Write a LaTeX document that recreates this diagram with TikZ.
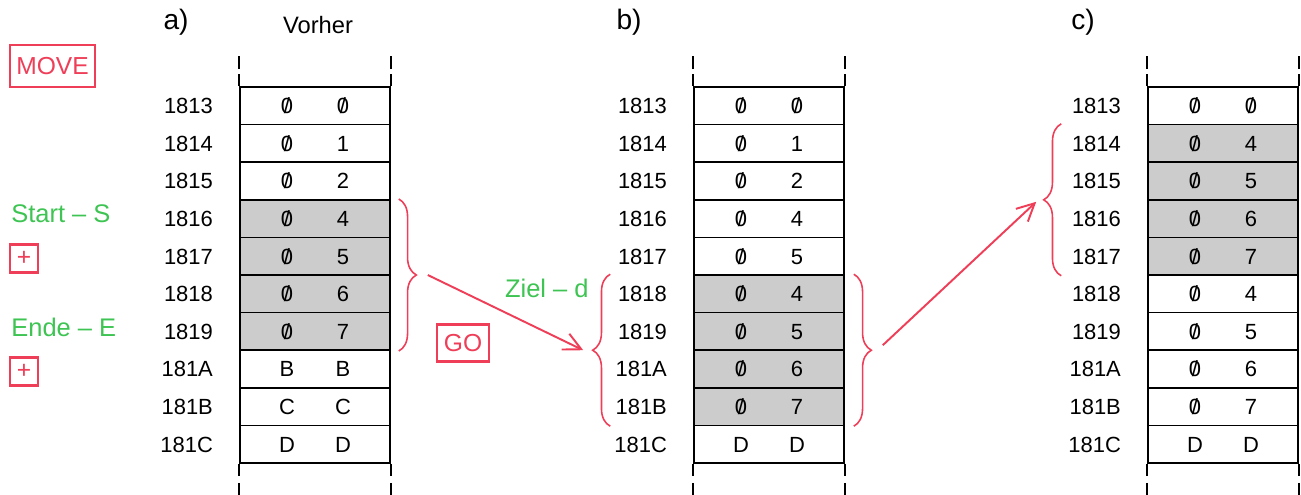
\documentclass[tikz,border=0pt]{standalone}
\usepackage{fontspec}
\setmainfont{Liberation Sans}
\usetikzlibrary{positioning,calc,arrows.meta,decorations.pathreplacing}

\definecolor{keyred}{RGB}{238,62,88}
\definecolor{notegreen}{RGB}{62,196,82}
\definecolor{cellgray}{RGB}{204,204,204}

% slashed zero as printed by the monitor listing
\newcommand{\nz}{\ooalign{0\cr\hidewidth/\hidewidth\cr}}

\begin{document}
\begin{tikzpicture}[
  x=0.02cm, y=-0.02cm,
  font=\fontsize{12.5}{14}\selectfont,
  cell/.style={rectangle, draw=black, line width=0.9pt,
               minimum width=3cm, minimum height=0.752cm, inner sep=0pt,
               text height=9pt, text depth=0pt},
  addr/.style={inner sep=0pt, text height=9pt, text depth=0pt},
  rail/.style={line width=1.1pt, black},
  key/.style={draw=keyred, line width=1.2pt, text=keyred, inner sep=0pt,
              font=\fontsize{14}{16}\selectfont},
  note/.style={text=notegreen, inner sep=0pt, font=\fontsize{14.5}{16}\selectfont},
  span/.style={decorate, decoration={brace, amplitude=10pt},
               draw=keyred, line width=0.9pt},
  jump/.style={-{Straight Barb[length=3.5mm, width=3.5mm]}, draw=keyred, line width=1.1pt}
]
\useasboundingbox (0,0) rectangle (1301,494);

% column headings
\node[font=\fontsize{16}{18}\selectfont] (tag-a) at (176,22) {a)};
\node[font=\fontsize{16}{18}\selectfont] (tag-b) at (629,22) {b)};
\node[font=\fontsize{16}{18}\selectfont] (tag-c) at (1083,22) {c)};
\node[font=\fontsize{13.5}{15}\selectfont] (vorher) at (318,25) {Vorher};

% memory before the move
\foreach \adr/\hi/\lo/\fl [count=\i] in {1813/\nz/\nz/white, 1814/\nz/1/white,
    1815/\nz/2/white, 1816/\nz/4/cellgray, 1817/\nz/5/cellgray, 1818/\nz/6/cellgray,
    1819/\nz/7/cellgray, 181A/B/B/white, 181B/C/C/white, 181C/D/D/white} {
  \node[cell, fill=\fl] (a\i) at (315, {68.2+37.6*\i}) {\makebox[1.12cm]{\hi}\makebox[1.12cm]{\lo}};
  \node[addr, left=0.52cm of a\i] (a\i-adr) {\adr};
}

% block moved up to 1818
\foreach \adr/\hi/\lo/\fl [count=\i] in {1813/\nz/\nz/white, 1814/\nz/1/white,
    1815/\nz/2/white, 1816/\nz/4/white, 1817/\nz/5/white, 1818/\nz/4/cellgray,
    1819/\nz/5/cellgray, 181A/\nz/6/cellgray, 181B/\nz/7/cellgray, 181C/D/D/white} {
  \node[cell, fill=\fl] (b\i) at (769, {68.2+37.6*\i}) {\makebox[1.12cm]{\hi}\makebox[1.12cm]{\lo}};
  \node[addr, left=0.52cm of b\i] (b\i-adr) {\adr};
}

% block moved down to 1814
\foreach \adr/\hi/\lo/\fl [count=\i] in {1813/\nz/\nz/white, 1814/\nz/4/cellgray,
    1815/\nz/5/cellgray, 1816/\nz/6/cellgray, 1817/\nz/7/cellgray, 1818/\nz/4/white,
    1819/\nz/5/white, 181A/\nz/6/white, 181B/\nz/7/white, 181C/D/D/white} {
  \node[cell, fill=\fl] (c\i) at (1223, {68.2+37.6*\i}) {\makebox[1.12cm]{\hi}\makebox[1.12cm]{\lo}};
  \node[addr, left=0.52cm of c\i] (c\i-adr) {\adr};
}

% open ends of the memory strips
\foreach \col in {a,b,c}
  \foreach \s in {west,east} {
    \draw[rail] (\col1.north \s) -- ++(0,-12) ++(0,-5) -- ++(0,-13)
                (\col10.south \s) -- ++(0,12) ++(0,7) -- ++(0,20);
  }

% key sequence
\node[key, minimum width=1.7cm, minimum height=0.84cm] (move) at (52.5,66) {MOVE};
\node[note, anchor=west] (start) at (11,214) {Start -- S};
\node[key, minimum size=0.56cm] (plus1) at (24,258.5) {+};
\node[note, anchor=west] (ende) at (11,327) {Ende -- E};
\node[key, minimum size=0.56cm] (plus2) at (24,371.5) {+};
\node[key, minimum width=1.04cm, minimum height=0.74cm] (go) at (463,343) {GO};
\node[note, anchor=east] (ziel) at (589,288) {Ziel -- d};

% braces round the blocks
\draw[span] ([xshift=0.16cm]a4.north east) -- ([xshift=0.16cm]a7.south east);
\draw[span] ([xshift=-1.66cm]b9.south west) -- ([xshift=-1.66cm]b6.north west);
\draw[span] ([xshift=0.18cm]b6.north east) -- ([xshift=0.18cm]b9.south east);
\draw[span] ([xshift=-1.72cm]c5.south west) -- ([xshift=-1.72cm]c2.north west);

\coordinate (a-out) at ($(a4.north east)!0.5!(a7.south east)+(37,0)$);
\coordinate (b-in)  at ($(b6.north west)!0.5!(b9.south west)+(-110,0)$);
\coordinate (b-out) at ($(b6.north east)!0.5!(b9.south east)+(38,-5)$);
\coordinate (c-in)  at ($(c2.north west)!0.5!(c5.south west)+(-111,2)$);

\draw[jump] (a-out) -- (b-in);
\draw[jump] (b-out) -- (c-in);
\end{tikzpicture}
\end{document}
